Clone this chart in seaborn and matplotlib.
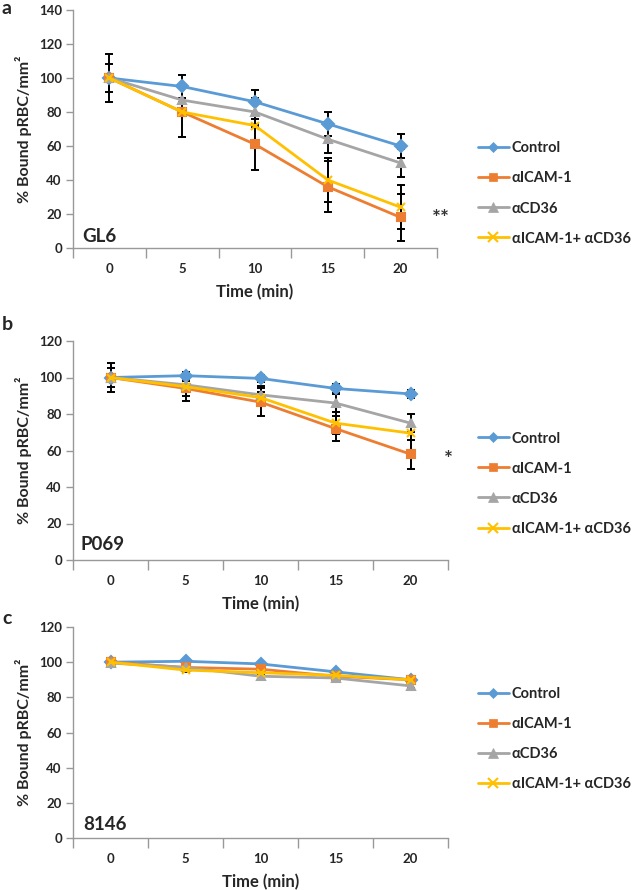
import numpy as np
import pandas as pd
import seaborn as sns
import matplotlib.pyplot as plt
from matplotlib.lines import Line2D

# time points (min) and series names
times = ['0', '5', '10', '15', '20']
series = ['Control', 'αICAM-1', 'αCD36', 'αICAM-1+ αCD36']

# panel a - GL6
gl6_control = [100, 95, 86, 73, 60]
gl6_icam = [100, 80, 61, 36, 18]
gl6_cd36 = [100, 87, 80, 64, 50]
gl6_both = [100, 80, 72, 40, 24]
gl6_control_sd = [8, 7, 7, 7, 7]
gl6_icam_sd = [14, 14.5, 15, 15, 14]
gl6_cd36_sd = [1, 1, 8, 8, 8.5]
gl6_both_sd = [1, 1, 1, 13, 13]

# panel b - P069
p069_control = [100, 101, 99.5, 94, 91]
p069_icam = [100, 94, 86.5, 72, 58]
p069_cd36 = [100, 96, 90.5, 86, 75]
p069_both = [100, 95, 89, 75, 69.5]
p069_control_sd = [5, 2, 2, 2.5, 2]
p069_icam_sd = [8, 7, 7.5, 7, 8]
p069_cd36_sd = [2, 6, 5, 5, 5]
p069_both_sd = [2, 3, 3, 6, 4]

# panel c - 8146
s8146_control = [100, 100.5, 99, 94.5, 90]
s8146_icam = [100, 97, 96, 92, 90]
s8146_cd36 = [99.5, 97, 92, 91, 86.5]
s8146_both = [100, 95.5, 94, 92.5, 90]
s8146_control_sd = [1, 1, 1, 1, 1]
s8146_icam_sd = [1, 1, 1, 1, 1]
s8146_cd36_sd = [2, 1, 2, 1, 1]
s8146_both_sd = [1, 1, 1, 1, 1]

colors = ['#5B9BD5', '#ED7D31', '#A5A5A5', '#FFC000']
markers = ['D', 's', '^', 'x']
msizes = [5, 6, 6.5, 7]

sns.set_style('white')
plt.rcParams['font.family'] = ['Lato', 'DejaVu Sans']
plt.rcParams['font.weight'] = 'bold'
plt.rcParams['axes.labelweight'] = 'bold'

fig = plt.figure(figsize=(6.38, 8.9), dpi=100)

panels = [
    dict(name='GL6', letter='a', rect=[73/638, 1-248/890, 364/638, 238/890],
         ymax=140, vals=[gl6_control, gl6_icam, gl6_cd36, gl6_both],
         sds=[gl6_control_sd, gl6_icam_sd, gl6_cd36_sd, gl6_both_sd],
         star='**', star_xy=(4.55, 17), leg_y=0.229, leg_x=1.113, lbl_x=0.025, lbl_y=0.012,
         letter_y=1.0),
    dict(name='P069', letter='b', rect=[73/638, 1-560/890, 375/638, 219/890],
         ymax=120, vals=[p069_control, p069_icam, p069_cd36, p069_both],
         sds=[p069_control_sd, p069_icam_sd, p069_cd36_sd, p069_both_sd],
         star='*', star_xy=(4.5, 55), leg_y=0.349, leg_x=1.08, lbl_x=0.019, lbl_y=0.03,
         letter_y=1-316/890),
    dict(name='8146', letter='c', rect=[73/638, 1-838/890, 375/638, 211/890],
         ymax=120, vals=[s8146_control, s8146_icam, s8146_cd36, s8146_both],
         sds=[s8146_control_sd, s8146_icam_sd, s8146_cd36_sd, s8146_both_sd],
         star=None, star_xy=None, leg_y=0.469, leg_x=1.08, lbl_x=0.027, lbl_y=0.024,
         letter_y=1-610/890),
]

for p in panels:
    ax = fig.add_axes(p['rect'])
    rows = []
    for s, v in zip(series, p['vals']):
        for t, y in zip(times, v):
            rows.append({'time': t, 'value': y, 'series': s})
    df = pd.DataFrame(rows)

    # error bars behind the lines
    for v, sd in zip(p['vals'], p['sds']):
        ax.errorbar(range(len(times)), v, yerr=sd, fmt='none', ecolor='black',
                    elinewidth=1.4, capsize=3.2, capthick=1.4, zorder=1)

    sns.pointplot(data=df, x='time', y='value', hue='series', order=times,
                  hue_order=series, palette=colors, markers=markers,
                  linestyles='-', errorbar=None, markersize=6, linewidth=2,
                  ax=ax, legend=False, zorder=3)

    ax.set_xlim(-0.5, 4.5)
    ax.set_ylim(0, p['ymax'])
    ax.set_yticks(np.arange(0, p['ymax'] + 1, 20))
    ax.set_xticks(range(len(times)))
    ax.set_xticklabels(times)
    ax.set_xticks(np.arange(-0.5, 5, 1), minor=True)
    ax.tick_params(axis='x', which='major', length=0, pad=11, labelsize=9.5)
    ax.tick_params(axis='x', which='minor', length=7, width=1, color='#999999',
                   direction='out', bottom=True)
    ax.tick_params(axis='y', length=5, width=1, color='#999999', direction='out',
                   left=True, pad=3, labelsize=9.5)
    for side in ['top', 'right']:
        ax.spines[side].set_visible(False)
    for side in ['left', 'bottom']:
        ax.spines[side].set_color('#999999')
        ax.spines[side].set_linewidth(1)
    ax.set_xlabel('Time (min)', fontsize=12, labelpad=6)
    ax.set_ylabel('% Bound pRBC/mm²', fontsize=11.5, labelpad=5)

    ax.text(p['lbl_x'], p['lbl_y'], p['name'], transform=ax.transAxes,
            fontsize=13.5, fontweight='bold', va='bottom', ha='left')
    if p['star']:
        ax.text(p['star_xy'][0], p['star_xy'][1], p['star'], fontsize=15,
                color='#333333', ha='center', va='center', clip_on=False)

    handles = [Line2D([0], [0], color=c, marker=m, markersize=ms, lw=2,
                      markeredgewidth=1.5 if m == 'x' else 0.5)
               for c, m, ms in zip(colors, markers, msizes)]
    ax.legend(handles, series, loc='center left',
              bbox_to_anchor=(p['leg_x'], p['leg_y']), frameon=False,
              borderaxespad=0, borderpad=0, handlelength=2.1,
              handletextpad=0.2, labelspacing=1.1,
              prop={'size': 10.5, 'weight': 'bold'})

    fig.text(0.003, p['letter_y'], p['letter'], fontsize=14, fontweight='bold',
             va='top', ha='left')

fig.savefig('out.png', dpi=100)
